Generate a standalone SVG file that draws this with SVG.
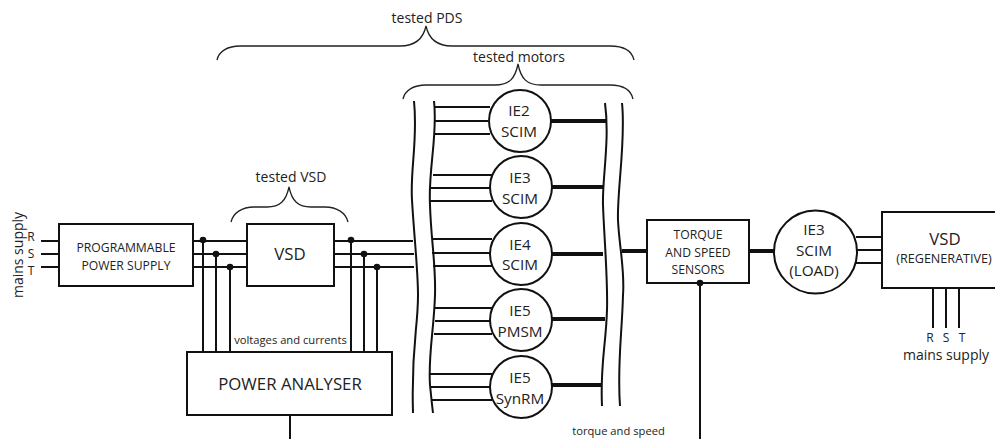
<svg xmlns="http://www.w3.org/2000/svg" width="995" height="439" viewBox="0 0 995 439">
<style>
text{font-family:"Open Sans","Noto Sans","Liberation Sans",sans-serif;fill:#222;text-anchor:middle}
.box{fill:#fff;stroke:#111;stroke-width:2}
.w{fill:none;stroke:#111;stroke-width:2}
.t{fill:none;stroke:#111;stroke-width:4}
.b{fill:none;stroke:#222;stroke-width:1.3}
.d{fill:#111;stroke:none}
.lab{font-size:14px}.note{font-size:11.2px}.rst{font-size:12px}.cap{font-size:12.200px}.big{font-size:16.800px}.m{font-size:15.300px}.reg{font-size:12.600px}
</style>
<rect width="995" height="439" fill="#fff"/>
<g id="connectors">
<path class="w" d="M41 241H59M41 254H59M41 267H59M193 241H247M193 254H247M193 267H247M334 241H413M334 254H414M334 267H414"/>
<path class="w" d="M203 241V352M216 254V352M230 267V352M351 240V352M364 254V352M377 267V352M290 415V439M700 283V439"/>
<path class="w" d="M435 107H490M434 121H488M434 134H490M433 175H492M431 188H490M430 201H492M432 239H492M432 253H490M433 266H492M435 308H492M435 321H490M434 334H492M430 374H492M430 387H490M431 400H492"/>
<path class="w" d="M856 237H882M857 250H882M856 263H882M933 288V328M946 288V328M959 288V328"/>
<path class="t" d="M551 121H606M552 187H603M552 254H603M552 319H605M552 385H601M622 251H647M749 251H774"/>
<path class="w" d="M414 101C418 140 410 170 412 200C414 235 418 270 418 295C418 330 411 345 413 413"/>
<path class="w" d="M434 101C438 135 428 170 430 205C431 240 436 265 435 295C434 330 428 355 430 385C431 395 432 405 433 413"/>
<path class="w" d="M605 103C610 140 602 180 603 205C604 235 608 280 607 310C606 345 600 365 602 406"/>
<path class="w" d="M622 103C626 140 617 190 618 220C619 245 625 270 623 295C622 335 617 365 620 406"/>
<circle class="d" cx="203" cy="240" r="3.3"/><circle class="d" cx="216" cy="254" r="3.3"/><circle class="d" cx="230" cy="267" r="3.3"/>
<circle class="d" cx="351" cy="240" r="3.3"/><circle class="d" cx="364" cy="254" r="3.3"/><circle class="d" cx="377" cy="267" r="3.3"/>
</g>
<g id="braces">
<path class="b" d="M217 60C219 51 228 46 240 46H400C414 46 423 40 426 26C429 40 438 46 452 46H610C624 46 632 51 634 60"/>
<path class="b" d="M403 99C405 90 414 85 426 85H495C509 85 515 79 518 64C521 79 527 85 541 85H610C624 85 631 90 633 99"/>
<path class="b" d="M231 222C233 213 242 207 254 207H267C280 207 286 201 289 187C292 201 298 207 311 207H325C337 207 346 213 348 222"/>
</g>
<g id="labels">
<text class="lab" x="427" y="23">tested PDS</text>
<text class="lab" x="519" y="62">tested motors</text>
<text class="lab" x="291" y="182">tested VSD</text>
<text class="lab" transform="translate(23 255) rotate(-90)">mains supply</text>
<text class="rst" x="31" y="241">R</text><text class="rst" x="31" y="258">S</text><text class="rst" x="31" y="275">T</text>
<text class="note" x="290.500" y="344">voltages and currents</text>
<text class="note" x="618.500" y="435">torque and speed</text>
<text class="rst" x="930" y="341.500">R</text><text class="rst" x="946" y="341.500">S</text><text class="rst" x="962" y="341.500">T</text>
<text class="lab" x="946" y="360">mains supply</text>
</g>
<g id="pps"><rect class="box" x="59" y="224" width="134" height="62"/><text class="cap" x="126" y="252">PROGRAMMABLE</text><text class="cap" x="126" y="270">POWER SUPPLY</text></g>
<g id="vsd"><rect class="box" x="247" y="224" width="87" height="62"/><text class="big" x="290" y="260">VSD</text></g>
<g id="analyser"><rect class="box" x="187" y="352" width="205" height="63"/><text class="big" x="290" y="390">POWER ANALYSER</text></g>
<g id="m1"><circle class="box" cx="520" cy="121" r="31"/><text class="m" x="519" y="116">IE2</text><text class="m" x="519" y="137">SCIM</text></g>
<g id="m2"><circle class="box" cx="521" cy="187" r="31"/><text class="m" x="520" y="183">IE3</text><text class="m" x="520" y="204">SCIM</text></g>
<g id="m3"><circle class="box" cx="521" cy="254" r="31"/><text class="m" x="520" y="250">IE4</text><text class="m" x="520" y="270">SCIM</text></g>
<g id="m4"><circle class="box" cx="521" cy="320" r="31"/><text class="m" x="520" y="316">IE5</text><text class="m" x="520" y="337">PMSM</text></g>
<g id="m5"><circle class="box" cx="521" cy="387" r="31"/><text class="m" x="520" y="383">IE5</text><text class="m" x="520" y="404">SynRM</text></g>
<g id="sensors"><rect class="box" x="647" y="220" width="102" height="63"/><text class="cap" x="698" y="239">TORQUE</text><text class="cap" x="698" y="257">AND SPEED</text><text class="cap" x="698" y="274">SENSORS</text><circle class="d" cx="700" cy="283" r="3.3"/></g>
<g id="load"><circle class="box" cx="815.500" cy="252" r="41.500"/><text class="m" x="814" y="235">IE3</text><text class="m" x="814" y="256">SCIM</text><text class="m" x="814" y="276">(LOAD)</text></g>
<g id="regen"><path class="box" d="M996 212H882V288H996"/><text class="big" x="945" y="245">VSD</text><text class="reg" x="944" y="263">(REGENERATIVE)</text></g>
</svg>
